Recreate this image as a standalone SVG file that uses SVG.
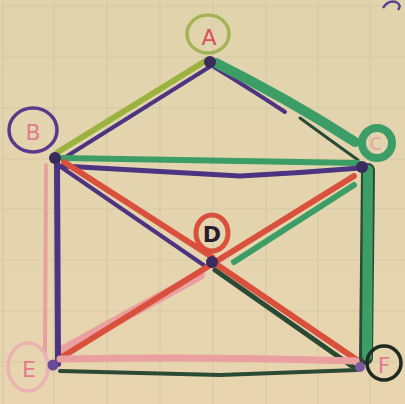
<svg xmlns="http://www.w3.org/2000/svg" width="405" height="404" viewBox="0 0 405 404">
<defs>
<linearGradient id="bg" x1="0" y1="0" x2="0" y2="1">
<stop offset="0" stop-color="#e0d4ad"/>
<stop offset="1" stop-color="#e8d5b0"/>
</linearGradient>
</defs>
<style>
.grid{stroke:#d6c9a3;stroke-width:1.2;fill:none}
.e{fill:none;stroke-linecap:round;stroke-linejoin:round}
.pur{stroke:#4d3480}
.olv{stroke:#9bb23e}
.grn{stroke:#3c9e66}
.dgr{stroke:#2a4a36}
.red{stroke:#d9503c}
.pnk{stroke:#eaa0a0}
.dot{fill:#3a2a5e}
.lbl{font-family:"DejaVu Sans",sans-serif;font-size:22px;text-anchor:middle}
</style>
<rect width="405" height="404" fill="url(#bg)"/>
<g class="grid">
<path d="M3 0V404M54 0V404M107 0V404M160 0V404M213 0V404M266 0V404M318 0V404M370 0V404"/>
<path d="M0 6H405M0 57H405M0 108H405M0 159H405M0 209H405M0 260H405M0 311H405M0 362H405"/>
</g>
<path d="M383 8 Q388 0 396 2 Q402 5 398 10" fill="none" stroke="#5a4090" stroke-width="2.5"/>
<g id="connectors">
<path class="e olv" stroke-width="6" d="M207 60 L58 152"/>
<path class="e pur" stroke-width="4" d="M211 66 L64 158"/>
<path class="e pur" stroke-width="4" d="M214 67 Q255 92 285 112"/>
<path class="e grn" stroke-width="10" d="M216 63 Q290 100 355 142"/>
<path class="e dgr" stroke-width="3" d="M300 118 Q330 140 358 160"/>
<path class="e grn" stroke-width="6" d="M62 158 Q210 160 358 163"/>
<path class="e pur" stroke-width="5" d="M62 166 Q150 171 240 176 Q300 173 360 168"/>
<path class="e pur" stroke-width="4" d="M58 165 L205 266"/>
<path class="e red" stroke-width="6" d="M64 162 L212 257"/>
<path class="e pnk" stroke-width="10" d="M200 275 L60 352"/>
<path class="e red" stroke-width="6" d="M354 176 L62 357"/>
<path class="e grn" stroke-width="6" d="M354 185 L234 262"/>
<path class="e dgr" stroke-width="5" d="M215 270 L356 369"/>
<path class="e red" stroke-width="6" d="M216 264 L357 360"/>
<path class="e pnk" stroke-width="4" d="M46 165 L45 355"/>
<path class="e pur" stroke-width="6" d="M57 160 L58 364"/>
<path class="e dgr" stroke-width="14" d="M368 170 L366 358"/>
<path class="e grn" stroke-width="10" d="M368 170 L367 356"/>
<path class="e pnk" stroke-width="7" d="M60 359 Q200 356 356 361"/>
<path class="e dgr" stroke-width="4" d="M60 371 Q150 373 220 375 Q300 372 357 370"/>
</g>
<g id="node-A">
<ellipse cx="208" cy="34" rx="21" ry="19" fill="none" stroke="#a3b457" stroke-width="3.5"/>
<text class="lbl" x="209" y="45" fill="#d85060">A</text>
<circle class="dot" cx="210" cy="62" r="6"/>
</g>
<g id="node-B">
<ellipse cx="33" cy="130" rx="24" ry="22" fill="none" stroke="#5a3a8c" stroke-width="3.5"/>
<text class="lbl" x="33" y="140" fill="#e07c90">B</text>
<circle class="dot" cx="55" cy="158" r="6"/>
</g>
<g id="node-C">
<circle cx="377" cy="143" r="15" fill="none" stroke="#3c9e66" stroke-width="8"/>
<text class="lbl" x="376" y="150" fill="#e6a0a6" style="font-size:17px">C</text>
<circle class="dot" cx="362" cy="167" r="6"/>
</g>
<g id="node-D">
<ellipse cx="212" cy="233" rx="16" ry="18" fill="none" stroke="#d9503c" stroke-width="5"/>
<text class="lbl" x="212" y="242" fill="#2a1a30" style="font-weight:bold">D</text>
<circle class="dot" cx="212" cy="262" r="6"/>
</g>
<g id="node-E">
<ellipse cx="28" cy="367" rx="20" ry="24" fill="none" stroke="#eab2b2" stroke-width="3.5"/>
<text class="lbl" x="29" y="377" fill="#e07c90">E</text>
<circle cx="53" cy="365" r="5.5" fill="#6a4a9a"/>
</g>
<g id="node-F">
<circle cx="384" cy="363" r="17" fill="none" stroke="#1e2a22" stroke-width="3.5"/>
<text class="lbl" x="384" y="373" fill="#e07c90">F</text>
<circle cx="360" cy="367" r="5" fill="#7a5aa0"/>
</g>
</svg>
